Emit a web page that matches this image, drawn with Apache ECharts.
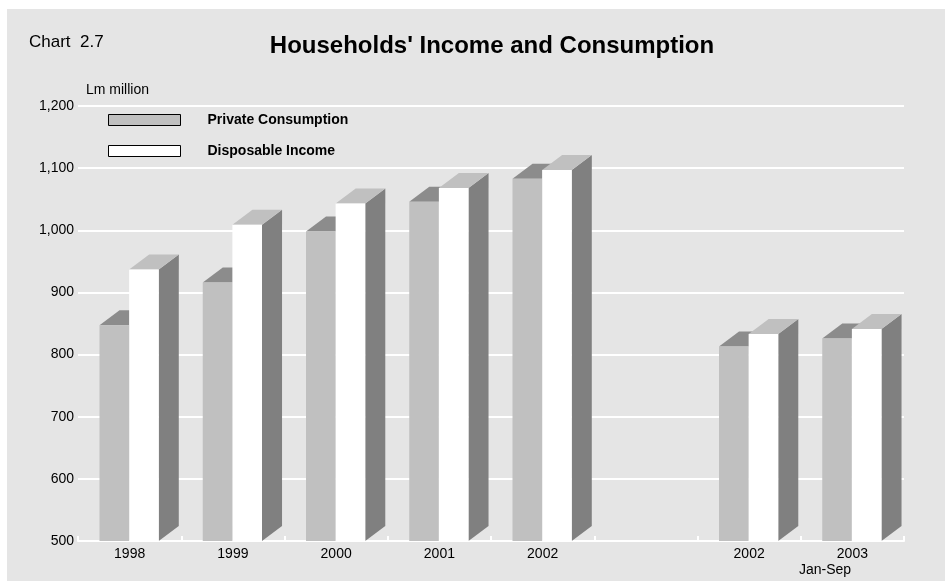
<!DOCTYPE html>
<html>
<head>
<meta charset="utf-8">
<script src="https://cdn.jsdelivr.net/npm/echarts@6/dist/echarts.min.js"></script>
<style>
  html, body { margin: 0; padding: 0; background: #ffffff; }
  #frame { position: absolute; left: 7px; top: 9px; width: 938px; height: 572px; background: #e5e5e5; }
  #chart { position: absolute; left: 0; top: 0; width: 945px; height: 581px; }
</style>
</head>
<body>
<div id="frame"></div>
<div id="chart"></div>
<script>
// Categories along the x axis (blank slot separates annual and Jan-Sep figures)
const categories = ['1998', '1999', '2000', '2001', '2002', '', '2002', '2003'];
// Lm million
const privateConsumption = [847, 916, 998, 1046, 1083, null, 813, 826];
const disposableIncome   = [937, 1009, 1043, 1068, 1097, null, 833, 841];
const yTicks = { min: 500, max: 1200, step: 100 };

const chart = echarts.init(document.getElementById('chart'), null, { renderer: 'canvas' });

// Draws a box-shaped bar: front face, top face and right side face
function boxBar(slot, colors) {
  return function (params, api) {
    const v = api.value(1);
    if (v == null || isNaN(v)) return;
    const idx = api.value(0);
    const top = api.coord([idx, v]);
    const base = api.coord([idx, yTicks.min]);
    const band = api.size([1, 0])[0];
    const w = band * 0.287;
    const dx = band * 0.194;
    const dy = dx * 0.75;
    const left = slot === 0 ? top[0] - w - 0.5 : top[0] - 0.5;
    const right = left + w;
    const ty = top[1];
    const by = base[1];
    return {
      type: 'group',
      children: [
        {
          type: 'polygon',
          shape: { points: [[right, ty], [right + dx, ty - dy], [right + dx, by - dy], [right, by]] },
          style: { fill: colors.side }
        },
        {
          type: 'polygon',
          shape: { points: [[left, ty], [right, ty], [right + dx, ty - dy], [left + dx, ty - dy]] },
          style: { fill: colors.top }
        },
        {
          type: 'rect',
          shape: { x: left, y: ty, width: w, height: by - ty },
          style: { fill: colors.front }
        }
      ]
    };
  };
}

const font = 'Liberation Sans, Arial, Helvetica, sans-serif';

chart.setOption({
  backgroundColor: 'transparent',
  animation: false,
  textStyle: { fontFamily: font },
  grid: { left: 78, right: 41, top: 106, bottom: 40, containLabel: false },
  title: [
    {
      text: "Households' Income and Consumption",
      left: 487, top: 29, textAlign: 'center',
      textStyle: { fontFamily: font, fontSize: 24, fontWeight: 'bold', color: '#000' }
    },
    {
      text: 'Chart  2.7',
      left: 24, top: 29,
      textStyle: { fontFamily: font, fontSize: 17, fontWeight: 'normal', color: '#000' }
    }
  ],
  legend: {
    orient: 'vertical',
    left: 108, top: 113,
    padding: 0,
    itemWidth: 72, itemHeight: 11, itemGap: 17,
    selectedMode: false,
    textStyle: { fontFamily: font, fontSize: 14, fontWeight: 'bold', color: '#000', padding: [0, 0, 0, 22] },
    data: [
      { name: 'Private Consumption', icon: 'rect', itemStyle: { color: '#c0c0c0', borderColor: '#000', borderWidth: 1 } },
      { name: 'Disposable Income', icon: 'rect', itemStyle: { color: '#ffffff', borderColor: '#000', borderWidth: 1 } }
    ]
  },
  xAxis: {
    type: 'category',
    data: categories,
    boundaryGap: true,
    axisLine: { show: true, lineStyle: { color: '#ffffff', width: 2 } },
    axisTick: { show: true, inside: true, length: 5, lineStyle: { color: '#ffffff', width: 2 } },
    axisLabel: { color: '#000', fontSize: 14, fontFamily: font, margin: 6 },
    splitLine: { show: false }
  },
  yAxis: {
    type: 'value',
    min: yTicks.min, max: yTicks.max, interval: yTicks.step,
    name: 'Lm million',
    nameLocation: 'end',
    nameGap: 9,
    nameTextStyle: { color: '#000', fontSize: 14, fontFamily: font, align: 'left', padding: [0, 0, 0, 8] },
    axisLine: { show: false },
    axisTick: { show: false },
    axisLabel: {
      color: '#000', fontSize: 14, fontFamily: font, margin: 4,
      formatter: function (v) { return v.toLocaleString('en-US'); }
    },
    splitLine: { show: true, lineStyle: { color: '#ffffff', width: 2 } }
  },
  graphic: [
    {
      type: 'text',
      left: 799, top: 563,
      style: { text: 'Jan-Sep', fill: '#000', font: '14px ' + font }
    }
  ],
  series: [
    {
      name: 'Private Consumption',
      type: 'custom',
      z: 2,
      itemStyle: { color: '#c0c0c0' },
      renderItem: boxBar(0, { front: '#c0c0c0', top: '#8c8c8c', side: '#808080' }),
      encode: { x: 0, y: 1 },
      data: privateConsumption.map((v, i) => [i, v])
    },
    {
      name: 'Disposable Income',
      type: 'custom',
      z: 3,
      itemStyle: { color: '#ffffff' },
      renderItem: boxBar(1, { front: '#ffffff', top: '#c0c0c0', side: '#808080' }),
      encode: { x: 0, y: 1 },
      data: disposableIncome.map((v, i) => [i, v])
    }
  ]
});
</script>
</body>
</html>
